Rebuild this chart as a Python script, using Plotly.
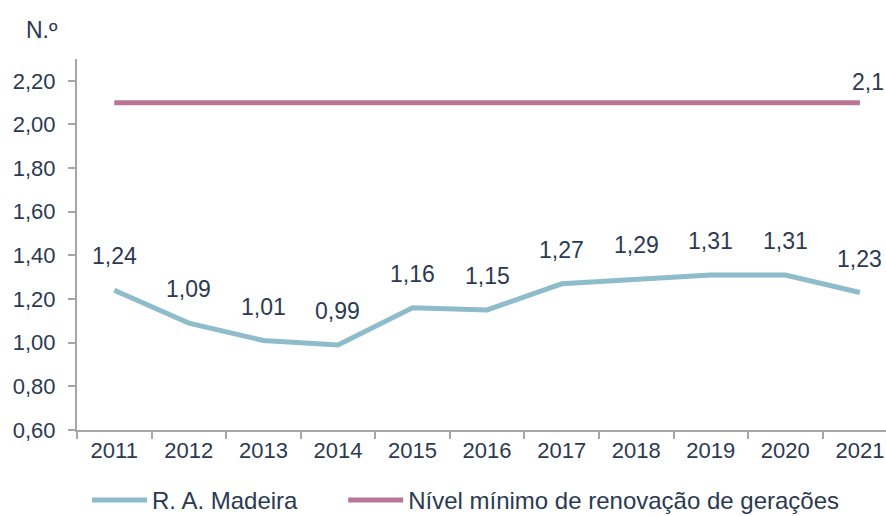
import plotly.graph_objects as go

years = ["2011", "2012", "2013", "2014", "2015", "2016", "2017", "2018", "2019", "2020", "2021"]
madeira = [1.24, 1.09, 1.01, 0.99, 1.16, 1.15, 1.27, 1.29, 1.31, 1.31, 1.23]
renovacao = [2.1] * len(years)
madeira_labels = [f"{v:.2f}".replace(".", ",") for v in madeira]
renov_label = "2,1"

txt = "#2b3a52"
fnt = "Liberation Sans, Arial, sans-serif"
fs = 22
fl = 23

fig = go.Figure()
fig.add_trace(go.Scatter(
    x=years, y=madeira, mode="lines", name="R. A. Madeira",
    line=dict(color="#8fbccb", width=5), legend="legend",
))
fig.add_trace(go.Scatter(
    x=years, y=renovacao, mode="lines", name="Nível mínimo de renovação de gerações",
    line=dict(color="#b87595", width=5), legend="legend2",
))

for i, (v, lab) in enumerate(zip(madeira, madeira_labels)):
    fig.add_annotation(x=i, y=v, text=lab, showarrow=False, yanchor="bottom",
                       yshift=19, font=dict(size=fl, color=txt, family=fnt))
fig.add_annotation(x=len(years) - 1, y=renovacao[-1], text=renov_label, showarrow=False,
                   yanchor="bottom", yshift=6, xshift=8,
                   font=dict(size=fl, color=txt, family=fnt))

leg_common = dict(orientation="h", xanchor="left", y=-0.19, yanchor="middle",
                  font=dict(size=24, color=txt), itemwidth=55, bgcolor="rgba(0,0,0,0)")

fig.update_layout(
    width=886, height=516,
    margin=dict(l=77, r=0, t=59, b=86, autoexpand=False),
    paper_bgcolor="white", plot_bgcolor="white",
    font=dict(family=fnt, size=fs, color=txt),
    separators=", ",
    showlegend=True,
    legend=dict(x=0.0124, **leg_common),
    legend2=dict(x=0.329, **leg_common),
)
fig.add_annotation(text="N.º", xref="paper", yref="paper", x=-0.066, y=1.078,
                   xanchor="left", yanchor="middle", showarrow=False,
                   font=dict(size=fl, color=txt, family=fnt))

fig.update_xaxes(
    type="category", range=[-0.5, 10.35], automargin=False,
    showline=True, linecolor="#a6a6a6", linewidth=2,
    ticks="outside", tickcolor="#a6a6a6", ticklen=7, tickwidth=2,
    tickson="boundaries", showgrid=False, zeroline=False,
    tickfont=dict(size=fs, color=txt),
)
fig.update_yaxes(
    range=[0.6, 2.3], tickvals=[0.6, 0.8, 1.0, 1.2, 1.4, 1.6, 1.8, 2.0, 2.2],
    tickformat=".2f", automargin=False, ticklabelstandoff=8,
    showline=True, linecolor="#a6a6a6", linewidth=2,
    ticks="outside", tickcolor="#a6a6a6", ticklen=7, tickwidth=2,
    showgrid=False, zeroline=False,
    tickfont=dict(size=fs, color=txt),
)

fig.write_html("out.html", config={"displayModeBar": False},
               post_script="document.body.style.margin='0';document.body.style.overflow='hidden';")
